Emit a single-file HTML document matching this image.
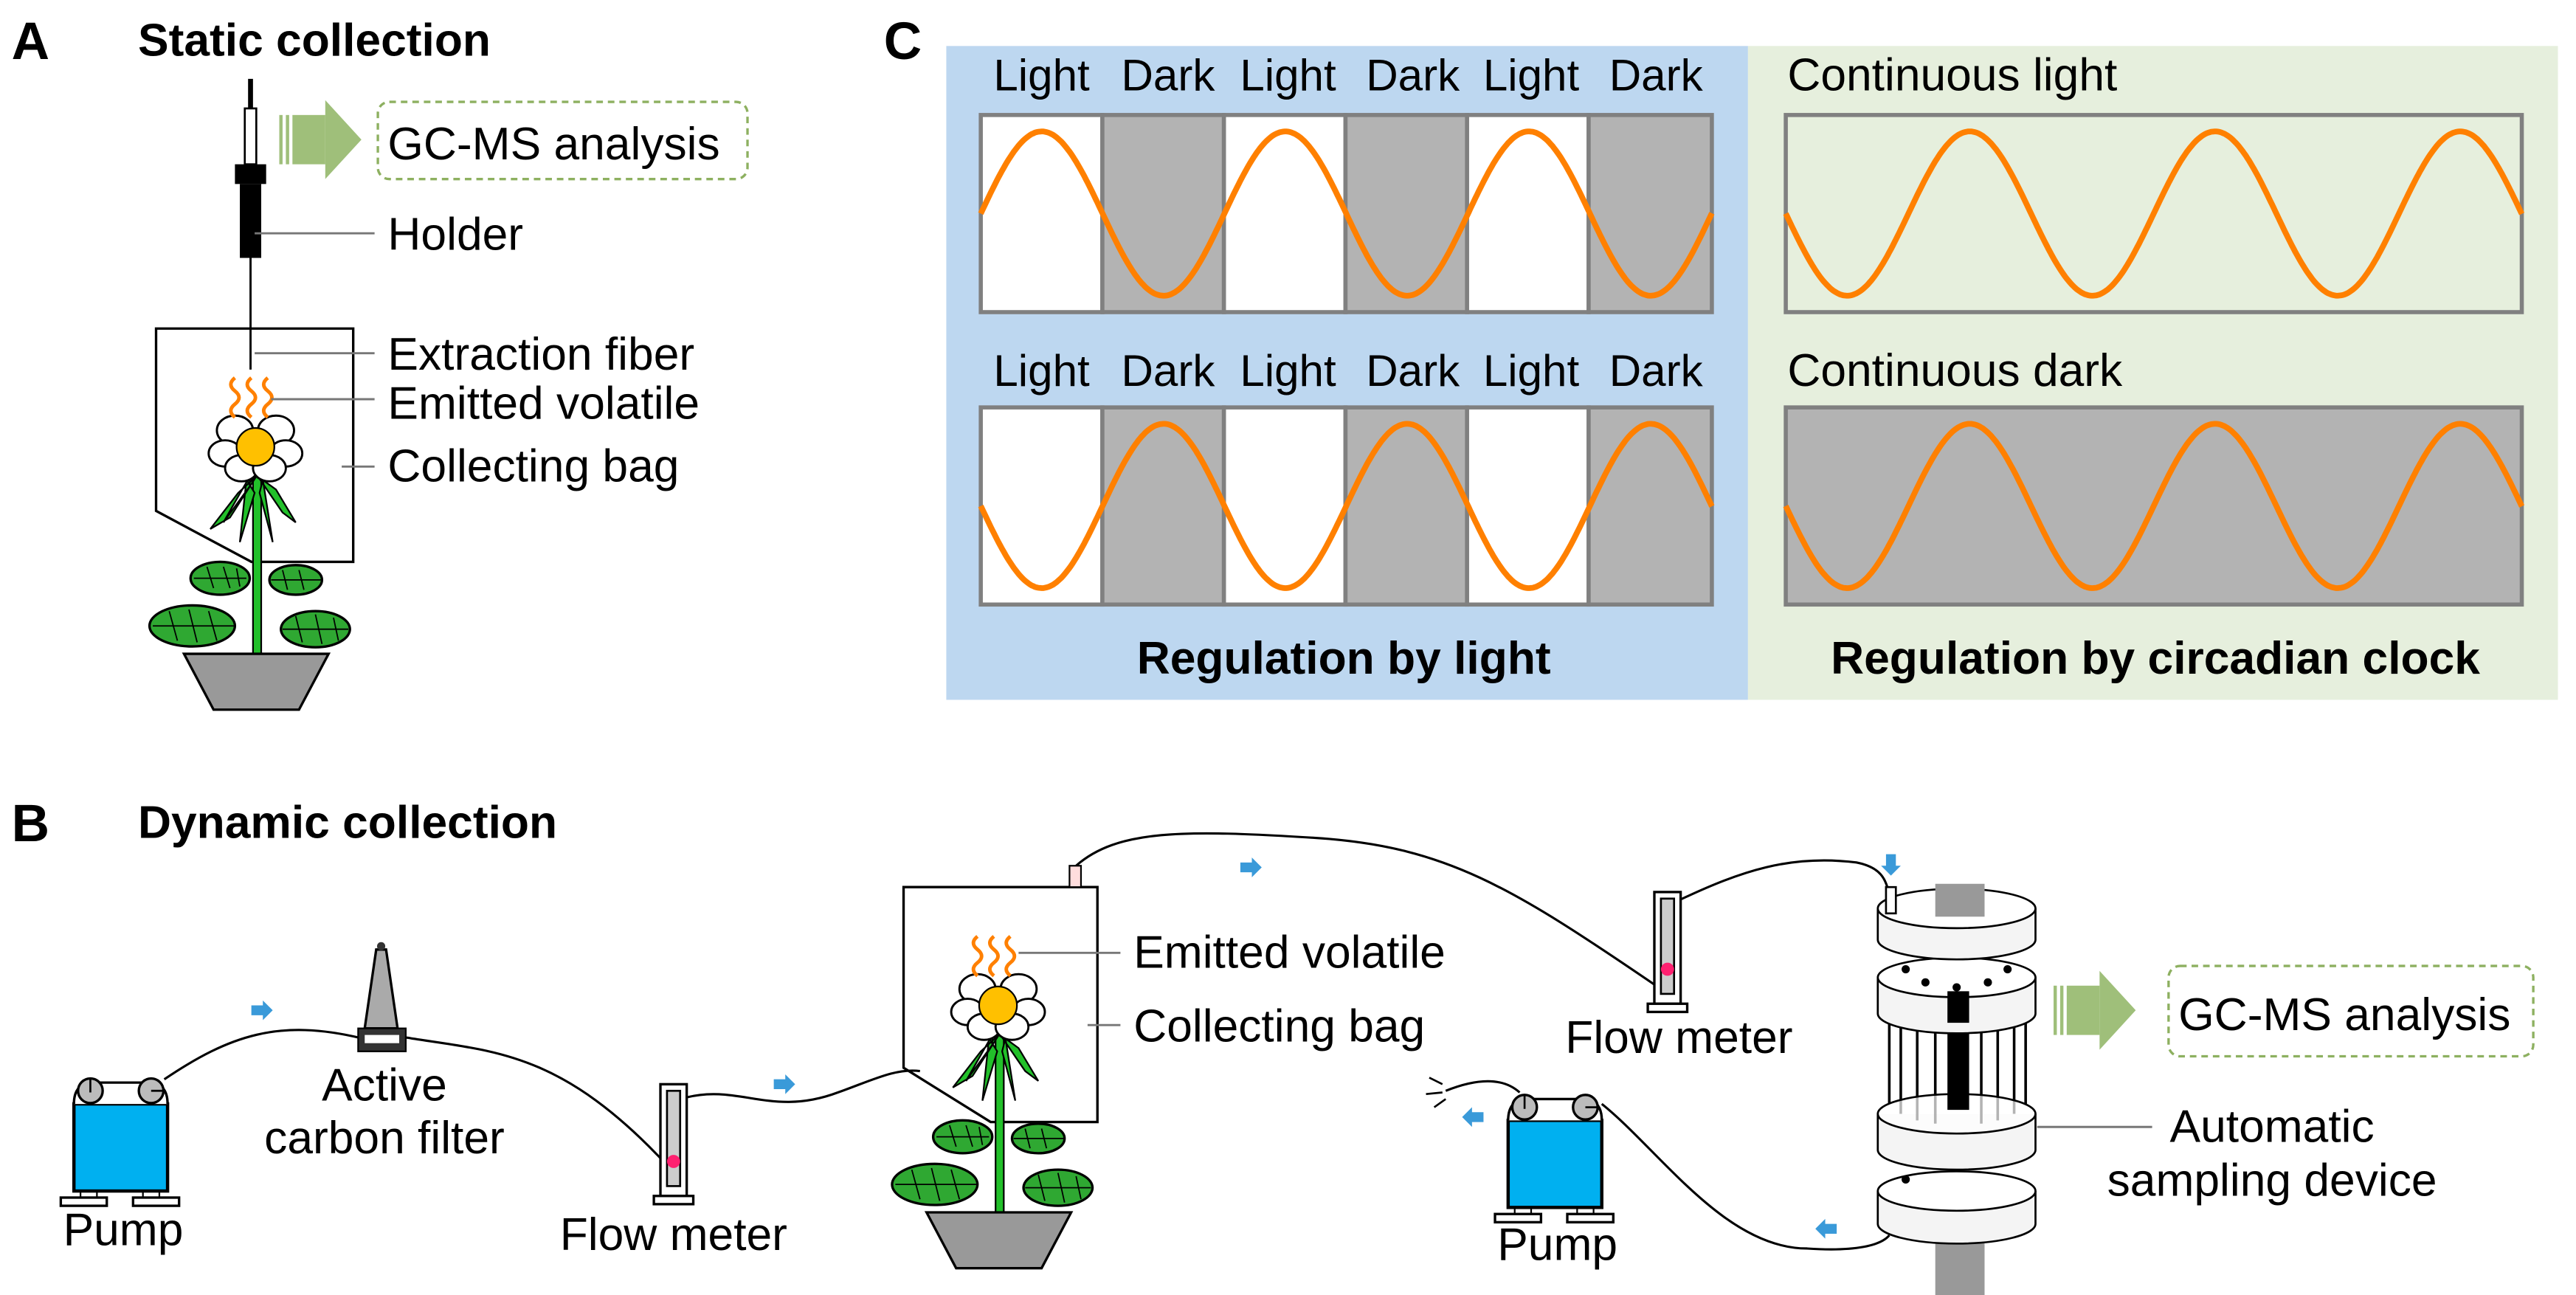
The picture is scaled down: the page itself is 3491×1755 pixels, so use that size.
<!DOCTYPE html>
<html><head><meta charset="utf-8"><style>
html,body{margin:0;padding:0;background:#fff;}
svg{display:block;}
text{font-family:"Liberation Sans",Arial,sans-serif;fill:#000;}
.b{font-weight:bold;}
</style></head><body>
<svg id="s" width="3491" height="1755" viewBox="0 0 1568 788.3" preserveAspectRatio="none" xmlns="http://www.w3.org/2000/svg">
<defs>
<g id="plant">
  <line x1="156.5" y1="280" x2="156.5" y2="398" stroke="#000" stroke-width="6"/>
  <line x1="156.5" y1="280" x2="156.5" y2="398" stroke="#22c02a" stroke-width="4"/>
  <path d="M156,290 L140,315 L128,322 L145,300 Z M157,290 L172,312 L180,318 L168,298 Z M150,292 L146,330 L155,300 Z M160,292 L166,330 L158,300 Z M152,290 L136,318 L152,296 Z" fill="#22c02a" stroke="#000" stroke-width="1"/>
  <g fill="#2fa832" stroke="#000" stroke-width="1.5">
    <ellipse cx="134" cy="352" rx="18" ry="10"/>
    <ellipse cx="180" cy="353" rx="16" ry="9"/>
    <ellipse cx="117" cy="381" rx="26" ry="12.5"/>
    <ellipse cx="192" cy="383" rx="21" ry="11"/>
  </g>
  <g stroke="#000" stroke-width="0.8" fill="none">
    <path d="M118,352 L150,352 M126,345 L130,358 M136,345 L140,358 M144,346 L146,357"/>
    <path d="M165,353 L196,353 M172,347 L175,359 M182,347 L185,359"/>
    <path d="M93,381 L143,381 M103,372 L108,390 M115,371 L120,391 M127,372 L132,390"/>
    <path d="M172,383 L212,383 M180,375 L184,391 M192,374 L196,392 M203,376 L206,390"/>
  </g>
  <g fill="#fff" stroke="#000" stroke-width="1.3">
    <ellipse cx="143" cy="262" rx="11" ry="9"/>
    <ellipse cx="168" cy="262" rx="11" ry="9"/>
    <ellipse cx="137" cy="276" rx="10" ry="8"/>
    <ellipse cx="174" cy="276" rx="10" ry="8"/>
    <ellipse cx="147" cy="285" rx="10" ry="8"/>
    <ellipse cx="164" cy="285" rx="10" ry="8"/>
  </g>
  <circle cx="155.5" cy="272" r="11.5" fill="#ffc000" stroke="#000" stroke-width="1"/>
  <polygon points="112,398 200,398 182,432 130,432" fill="#999" stroke="#000" stroke-width="1.5"/>
  <g fill="none" stroke="#ff8000" stroke-width="2.2">
    <path d="M143,230 q-5,4 0,8 q5,4 0,8 q-5,4 0,8"/>
    <path d="M153,230 q-5,4 0,8 q5,4 0,8 q-5,4 0,8"/>
    <path d="M163,230 q-5,4 0,8 q5,4 0,8 q-5,4 0,8"/>
  </g>
</g>
<g id="pump">
  <rect x="0" y="10" width="57" height="53" fill="#00b0f0" stroke="#000" stroke-width="2"/>
  <path d="M0,10 Q0,-3 12,-3 L45,-3 Q57,-3 57,10" fill="#fff" stroke="#000" stroke-width="1.5"/>
  <circle cx="10" cy="2" r="7.5" fill="#bbb" stroke="#000" stroke-width="1.5"/>
  <circle cx="47" cy="2" r="7.5" fill="#bbb" stroke="#000" stroke-width="1.5"/>
  <line x1="10" y1="-5" x2="10" y2="3" stroke="#000" stroke-width="1.2"/>
  <line x1="47" y1="2" x2="55" y2="2" stroke="#000" stroke-width="1.2"/>
  <rect x="-8" y="67" width="28" height="5" fill="#fff" stroke="#000" stroke-width="1.5"/>
  <rect x="36" y="67" width="28" height="5" fill="#fff" stroke="#000" stroke-width="1.5"/>
  <line x1="4" y1="63" x2="4" y2="67" stroke="#000"/><line x1="14" y1="63" x2="14" y2="67" stroke="#000"/>
  <line x1="42" y1="63" x2="42" y2="67" stroke="#000"/><line x1="52" y1="63" x2="52" y2="67" stroke="#000"/>
</g>
<g id="fm">
  <rect x="0" y="0" width="16" height="68" fill="#fff" stroke="#000" stroke-width="1.5"/>
  <rect x="4" y="4" width="8" height="58" fill="#ccc" stroke="#000" stroke-width="1.2"/>
  <circle cx="8" cy="47" r="4" fill="#ff2070"/>
  <rect x="-4" y="68" width="24" height="5" fill="#fff" stroke="#000" stroke-width="1.5"/>
</g>
<g id="barr"><polygon points="0,-3 7,-3 7,-6 13,0 7,6 7,3 0,3" fill="#3a9ad9"/></g>
<g id="garr">
  <rect x="0" y="0" width="2" height="30" fill="#9fbf7a"/><rect x="4" y="0" width="2" height="30" fill="#9fbf7a"/>
  <rect x="8" y="0" width="20" height="30" fill="#9fbf7a"/>
  <polygon points="28,-9 50,15 28,39" fill="#9fbf7a"/>
</g>
</defs>

<!-- Panel labels -->
<text x="7" y="36" class="b" font-size="32">A</text>
<text x="84" y="34" class="b" font-size="28">Static collection</text>
<text x="538" y="36" class="b" font-size="32">C</text>
<text x="7" y="512" class="b" font-size="32">B</text>
<text x="84" y="510" class="b" font-size="28">Dynamic collection</text>

<!-- Panel A -->
<line x1="152.5" y1="48" x2="152.5" y2="68" stroke="#000" stroke-width="3"/>
<rect x="149" y="66" width="7" height="34" fill="#fff" stroke="#000" stroke-width="1.2"/>
<rect x="143" y="100" width="19" height="12" fill="#000"/>
<rect x="146" y="112" width="13" height="45" fill="#000"/>
<line x1="152.5" y1="157" x2="152.5" y2="225" stroke="#000" stroke-width="1.3"/>
<polygon points="95,200 215,200 215,342 153,342 95,311" fill="none" stroke="#000" stroke-width="1.5"/>
<use href="#plant"/>
<use href="#garr" x="170" y="70"/>
<rect x="230" y="62" width="225" height="47" rx="7" fill="none" stroke="#8db060" stroke-width="1.5" stroke-dasharray="4,3"/>
<text x="236" y="97" font-size="28">GC-MS analysis</text>
<g stroke="#777" stroke-width="1.3">
<line x1="155" y1="142" x2="228" y2="142"/>
<line x1="155" y1="215" x2="228" y2="215"/>
<line x1="165" y1="243" x2="228" y2="243"/>
<line x1="208" y1="284" x2="228" y2="284"/>
</g>
<text x="236" y="152" font-size="28">Holder</text>
<text x="236" y="225" font-size="28">Extraction fiber</text>
<text x="236" y="255" font-size="28">Emitted volatile</text>
<text x="236" y="293" font-size="28">Collecting bag</text>

<!-- Panel C -->
<rect x="576" y="28" width="488" height="398" fill="#bdd7f0"/>
<rect x="1064" y="28" width="493" height="398" fill="#e6efdd"/>
<g id="cgrid"></g>
<g font-size="27" text-anchor="middle">
<text x="634" y="55">Light</text><text x="711" y="55">Dark</text><text x="784" y="55">Light</text><text x="860" y="55">Dark</text><text x="932" y="55">Light</text><text x="1008" y="55">Dark</text>
<text x="634" y="235">Light</text><text x="711" y="235">Dark</text><text x="784" y="235">Light</text><text x="860" y="235">Dark</text><text x="932" y="235">Light</text><text x="1008" y="235">Dark</text>
</g>
<text x="1088" y="55" font-size="28">Continuous light</text>
<text x="1088" y="235" font-size="28">Continuous dark</text>
<text x="818" y="410" font-size="28" class="b" text-anchor="middle">Regulation by light</text>
<text x="1312" y="410" font-size="28" class="b" text-anchor="middle">Regulation by circadian clock</text>

<!-- Panel B -->
<g fill="none" stroke="#000" stroke-width="1.4">
<path d="M100,657 C140,630 170,620 220,632 C230,634 240,630 250,632 C300,640 340,640 402,705"/>
<path d="M418,668 C450,660 470,680 510,665 C530,658 545,650 560,652"/>
<path d="M655,527 C680,505 720,505 800,510 C880,515 920,540 1008,600"/>
<path d="M1022,548 C1060,530 1090,520 1130,525 C1145,528 1148,535 1150,545"/>
<path d="M975,672 C1010,700 1050,760 1100,760 C1130,762 1145,758 1150,752"/>
<path d="M925,665 C915,656 900,656 880,664"/>
</g>
<g stroke="#000" stroke-width="1.2"><line x1="878" y1="660" x2="870" y2="656"/><line x1="878" y1="665" x2="868" y2="666"/><line x1="880" y1="669" x2="873" y2="674"/></g>
<use href="#pump" x="45" y="662"/>
<use href="#pump" x="918" y="672"/>
<!-- filter -->
<polygon points="229,578 235,578 242,626 222,626" fill="#aaa" stroke="#000" stroke-width="1.5"/>
<circle cx="232" cy="576" r="2.5" fill="#333"/>
<rect x="218" y="626" width="29" height="14" fill="#333" stroke="#000"/>
<rect x="222" y="630" width="21" height="5" fill="#fff"/>
<text x="234" y="670" font-size="28" text-anchor="middle">Active</text>
<text x="234" y="702" font-size="28" text-anchor="middle">carbon filter</text>
<text x="75" y="758" font-size="28" text-anchor="middle">Pump</text>
<use href="#fm" x="402" y="660"/>
<text x="410" y="761" font-size="28" text-anchor="middle">Flow meter</text>
<use href="#fm" x="1007" y="543"/>
<text x="1022" y="641" font-size="28" text-anchor="middle">Flow meter</text>
<text x="948" y="767" font-size="28" text-anchor="middle">Pump</text>
<use href="#barr" x="153" y="615"/>
<use href="#barr" x="471" y="660"/>
<use href="#barr" x="755" y="528"/>
<use href="#barr" transform="translate(903,680) scale(-1,1)"/>
<use href="#barr" transform="translate(1118,748) scale(-1,1)"/>
<use href="#barr" transform="translate(1151,520) rotate(90)"/>
<!-- bag B -->
<polygon points="550,540 668,540 668,683 603,683 550,650" fill="none" stroke="#000" stroke-width="1.5"/>
<rect x="651" y="527" width="7" height="13" fill="#fdd" stroke="#000" stroke-width="1"/>
<use href="#plant" transform="translate(452,340)"/>
<g stroke="#777" stroke-width="1.3">
<line x1="620" y1="580" x2="682" y2="580"/>
<line x1="662" y1="624" x2="682" y2="624"/>
<line x1="1240" y1="686" x2="1310" y2="686"/>
</g>
<text x="690" y="589" font-size="28">Emitted volatile</text>
<text x="690" y="634" font-size="28">Collecting bag</text>
<!-- device -->
<g stroke="#000" stroke-width="1.2">
<rect x="1178" y="755" width="30" height="35" fill="#999" stroke="none"/>
<path d="M1143,725 L1143,745 A48,12 0 0 0 1239,745 L1239,725" fill="#f4f4f4"/>
<ellipse cx="1191" cy="725" rx="48" ry="12" fill="#fff"/>
<path d="M1143,678 L1143,700 A48,12 0 0 0 1239,700 L1239,678" fill="#f4f4f4"/>
<g stroke-width="1.6">
<line x1="1150" y1="622" x2="1150" y2="672"/><line x1="1157" y1="624" x2="1157" y2="678"/><line x1="1167" y1="625" x2="1167" y2="682"/><line x1="1178" y1="626" x2="1178" y2="684"/>
<line x1="1206" y1="626" x2="1206" y2="684"/><line x1="1216" y1="625" x2="1216" y2="682"/><line x1="1226" y1="624" x2="1226" y2="678"/><line x1="1233" y1="622" x2="1233" y2="672"/>
</g>
<ellipse cx="1191" cy="678" rx="48" ry="12" fill="#fff" fill-opacity="0.7"/>
<rect x="1186" y="620" width="12" height="55" fill="#000"/>
<path d="M1143,595 L1143,617 A48,12 0 0 0 1239,617 L1239,595" fill="#f4f4f4"/>
<ellipse cx="1191" cy="595" rx="48" ry="12" fill="#fff"/>
<rect x="1186" y="604" width="12" height="18" fill="#000"/>
<path d="M1143,553 L1143,572 A48,12 0 0 0 1239,572 L1239,553" fill="#f4f4f4"/>
<ellipse cx="1191" cy="553" rx="48" ry="12" fill="#fff"/>
<rect x="1178" y="538" width="30" height="20" fill="#999" stroke="none"/>
<rect x="1148" y="540" width="6" height="16" fill="#fff"/>
</g>
<g fill="#000"><circle cx="1160" cy="590" r="2.5"/><circle cx="1172" cy="598" r="2.5"/><circle cx="1191" cy="601" r="2.5"/><circle cx="1210" cy="598" r="2.5"/><circle cx="1222" cy="590" r="2.5"/><circle cx="1160" cy="718" r="2.5"/></g>
<use href="#garr" x="1250" y="600"/>
<rect x="1320" y="588" width="222" height="55" rx="7" fill="none" stroke="#8db060" stroke-width="1.5" stroke-dasharray="4,3"/>
<text x="1326" y="627" font-size="28">GC-MS analysis</text>
<text x="1383" y="695" font-size="28" text-anchor="middle">Automatic</text>
<text x="1383" y="728" font-size="28" text-anchor="middle">sampling device</text>
</svg>
<script>
(function(){
var NS="http://www.w3.org/2000/svg",g=document.getElementById("cgrid");
function el(n,a){var e=document.createElementNS(NS,n);for(var k in a)e.setAttribute(k,a[k]);g.appendChild(e);return e;}
function sine(x0,x1,ym,amp,per,sgn){var d="";for(var x=x0;x<=x1+0.01;x+=1){var y=ym-sgn*amp*Math.sin(2*Math.PI*(x-x0)/per);d+=(d?"L":"M")+x.toFixed(1)+","+y.toFixed(1);}
el("path",{d:d,fill:"none",stroke:"#ff8000","stroke-width":"3.5"});}
var xs=[597,671,745,819,893,967,1042];
[[70,190,1],[248,368,-1]].forEach(function(r){
 for(var i=0;i<6;i++)el("rect",{x:xs[i],y:r[0],width:xs[i+1]-xs[i],height:r[1]-r[0],fill:(i%2?"#b3b3b3":"#fff"),stroke:"#808080","stroke-width":"2.5"});
 sine(597,1042,(r[0]+r[1])/2,50,148.3,r[2]);
});
el("rect",{x:1087,y:70,width:448,height:120,fill:"#e6efdd",stroke:"#808080","stroke-width":"2.5"});
sine(1087,1535,130,50,149.3,-1);
el("rect",{x:1087,y:248,width:448,height:120,fill:"#b3b3b3",stroke:"#808080","stroke-width":"2.5"});
sine(1087,1535,308,50,149.3,-1);
})();
</script>
</body></html>
